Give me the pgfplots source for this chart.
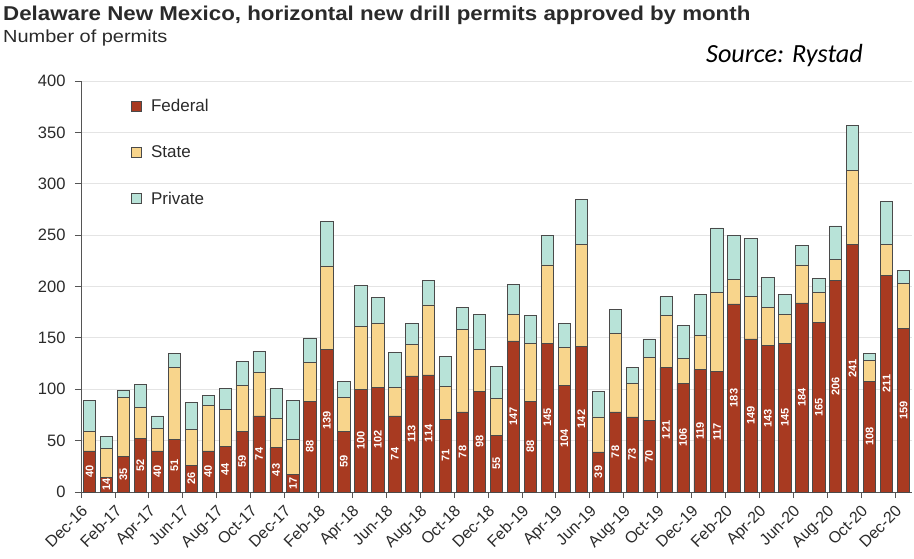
\documentclass[border=0pt]{standalone}
\usepackage{pgfplots}
\usepackage{pgfplotstable}
\pgfplotsset{compat=1.18}
\usepackage{fontspec}
\setmainfont{Liberation Sans}
\newfontfamily\srcfont{Carlito}

\definecolor{fedcol}{HTML}{A83A21}
\definecolor{statecol}{HTML}{F8D58C}
\definecolor{privcol}{HTML}{B8E3D8}
\definecolor{edgecol}{HTML}{4A4A4A}
\definecolor{gridcol}{HTML}{E4E4E4}
\definecolor{axiscol}{HTML}{555555}
\definecolor{textcol}{HTML}{2A2A2A}

% Monthly horizontal drill permits approved, Dec-16 .. Dec-20
\pgfplotstableread{
x  fed state priv
1   40  19  30
2   14  28  12
3   35  57   7
4   52  30  23
5   40  22  12
6   51  70  14
7   26  35  26
8   40  44  10
9   44  36  21
10  59  45  23
11  74  42  21
12  43  29  29
13  17  34  38
14  88  38  24
15 139  81  43
16  59  33  16
17 100  61  40
18 102  62  25
19  74  28  34
20 113  31  20
21 114  68  24
22  71  32  29
23  78  80  22
24  98  41  34
25  55  36  31
26 147  26  29
27  88  57  27
28 145  76  29
29 104  37  23
30 142  99  44
31  39  34  25
32  78  76  24
33  73  33  15
34  70  61  18
35 121  51  18
36 106  24  32
37 119  33  40
38 117  77  63
39 183  24  43
40 149  41  57
41 143  37  29
42 145  28  19
43 184  37  19
44 165  29  14
45 206  20  33
46 241  72  44
47 108  20   7
48 211  30  42
49 159  44  13
}\permits

\pgfplotsset{
  frame/.style={
    at={(81pt,66pt)}, anchor=south west,
    scale only axis, width=831pt, height=411pt,
    xmin=0.5, xmax=49.5, ymin=0, ymax=400,
    /pgf/number format/assume math mode=true,
  }
}

\begin{document}
\begin{tikzpicture}
\path[use as bounding box] (0,0) rectangle (914pt,558pt);

\node[anchor=base west, inner sep=0pt, text=textcol, transform shape, xscale=1.115,
      font=\fontsize{20}{22}\selectfont\bfseries] at (3pt,537.5pt)
  {Delaware New Mexico, horizontal new drill permits approved by month};
\node[anchor=base west, inner sep=0pt, text=textcol, transform shape, xscale=1.14,
      font=\fontsize{17.5}{19}\selectfont] at (3pt,515.3pt)
  {Number of permits};
\node[anchor=base west, inner sep=0pt, text=black,
      font=\srcfont\fontsize{26.2}{28}\selectfont\itshape] at (706pt,495pt)
  {Source: Rystad};

\begin{axis}[
  frame,
  ybar stacked, bar width=0.725,
  every axis plot post/.append style={
    legend image code/.code={\draw[##1, draw=edgecol, line width=0.6pt] (0pt,-5pt) rectangle (10pt,5pt);}
  },
  axis lines=left,
  axis line style={-, draw=axiscol, line width=0.8pt},
  tick align=outside,
  major tick length=6pt,
  tick style={draw=axiscol, line width=0.8pt},
  ytick={0,50,...,400},
  ymajorgrids,
  grid style={draw=gridcol, line width=0.9pt},
  xtick={0.5,2.5,...,48.5},
  xticklabels={Dec-16,Feb-17,Apr-17,Jun-17,Aug-17,Oct-17,Dec-17,Feb-18,Apr-18,Jun-18,Aug-18,Oct-18,Dec-18,Feb-19,Apr-19,Jun-19,Aug-19,Oct-19,Dec-19,Feb-20,Apr-20,Jun-20,Aug-20,Oct-20,Dec-20},
  xticklabel style={xshift=-0.5pt, yshift=-3pt, rotate=45, anchor=north east, inner sep=2pt,
                    font=\fontsize{16}{18}\selectfont, text=textcol},
  yticklabel style={xshift=-6pt, font=\fontsize{16.5}{18}\selectfont, text=textcol},
  legend style={at={(0.0605,0.960)}, anchor=north west, draw=none, fill=none,
                font=\fontsize{17}{20}\selectfont, text=textcol,
                row sep=28.5pt, inner sep=0pt,
                /tikz/every odd column/.append style={column sep=7pt}},
  legend cell align=left,
]
\addplot[fill=fedcol, draw=edgecol, line width=0.7pt]
  table[x=x, y=fed] {\permits};
\addlegendentry{Federal}
\addplot[fill=statecol, draw=edgecol, line width=0.7pt]
  table[x=x, y=state] {\permits};
\addlegendentry{State}
\addplot[fill=privcol, draw=edgecol, line width=0.7pt]
  table[x=x, y=priv] {\permits};
\addlegendentry{Private}
\end{axis}

% Federal counts written inside the lower bar segments
\begin{axis}[frame, hide axis]
\addplot[draw=none, nodes near coords, point meta=explicit,
  every node near coord/.style={rotate=90, anchor=center, inner sep=0pt, text=white,
    font=\fontsize{11}{11}\selectfont\bfseries}]
  table[x=x, y expr=\thisrow{fed}/2, meta=fed] {\permits};
\end{axis}
\end{tikzpicture}
\end{document}
